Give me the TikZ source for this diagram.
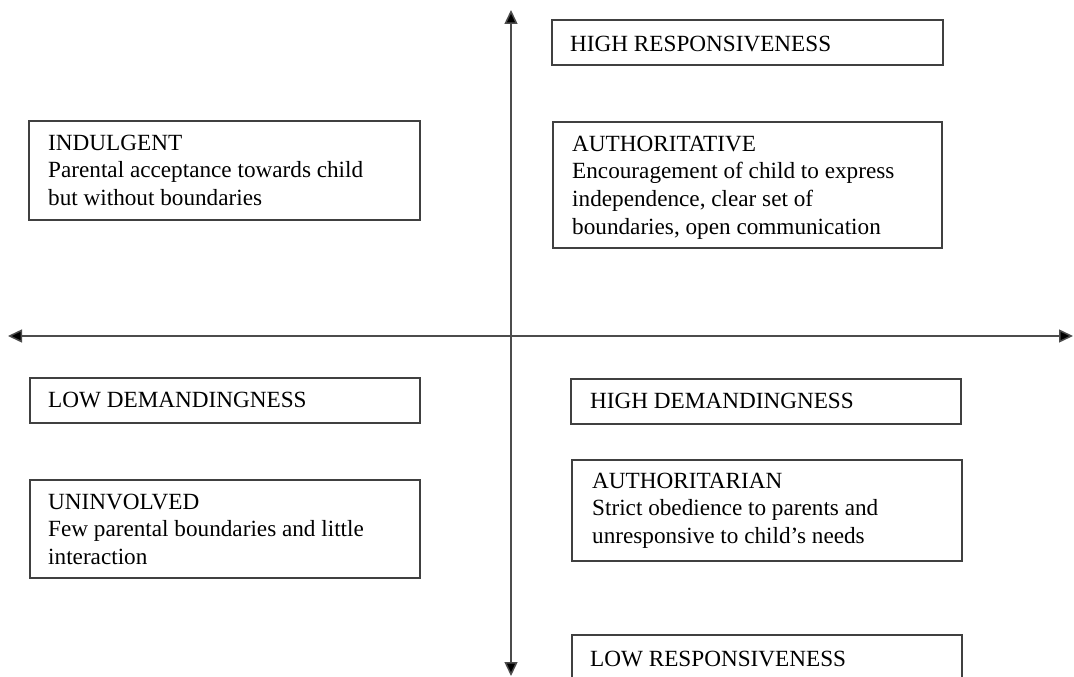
\documentclass[tikz,border=0pt]{standalone}
\usepackage{fontspec}
\setmainfont{Liberation Serif}
\usetikzlibrary{arrows.meta,calc}
\begin{document}
\begin{tikzpicture}[x=1pt,y=-1pt,
  boxframe/.style={draw=black!75,line width=1.4pt},
  txt/.style={anchor=north west,inner sep=0pt,align=left,
    font=\fontsize{23.2pt}{27.7pt}\selectfont},
  axis/.style={draw=black!70,line width=1.5pt,
    {Triangle[length=14pt,width=13pt,fill=black]}-{Triangle[length=14pt,width=13pt,fill=black]}}]
\useasboundingbox (0,0) rectangle (1074,677);
% axes
\coordinate (top) at (511,10);
\coordinate (bot) at (511,676);
\coordinate (lft) at (8,336);
\coordinate (rgt) at (1073,336);
\draw[axis] (bot) -- (top);
\draw[axis] (lft) -- (rgt);
% boxes (text node placed at top of first line: baseline - cap height)
\draw[boxframe] (552,20) rectangle (943,65);
\node[txt] (hr) at (570,35.6) {HIGH RESPONSIVENESS};
\draw[boxframe] (29,121) rectangle (420,220);
\node[txt] (ind) at (48,134.6) {INDULGENT\\Parental acceptance towards child\\but without boundaries};
\draw[boxframe] (553,122) rectangle (942,248);
\node[txt] (auth) at (572,135.6) {AUTHORITATIVE\\Encouragement of child to express\\independence, clear set of\\boundaries, open communication};
\draw[boxframe] (30,378) rectangle (420,423);
\node[txt] (ld) at (48,391.6) {LOW DEMANDINGNESS};
\draw[boxframe] (571,379) rectangle (961,424);
\node[txt] (hd) at (590,392.6) {HIGH DEMANDINGNESS};
\draw[boxframe] (30,480) rectangle (420,578);
\node[txt] (uninv) at (48,493.6) {UNINVOLVED\\Few parental boundaries and little\\interaction};
\draw[boxframe] (572,460) rectangle (962,561);
\node[txt] (autht) at (592,472.6) {AUTHORITARIAN\\Strict obedience to parents and\\unresponsive to child’s needs};
\draw[boxframe] (572,690) -- (572,635) -- (962,635) -- (962,690);
\node[txt] (lr) at (590,650.6) {LOW RESPONSIVENESS};
\end{tikzpicture}
\end{document}
